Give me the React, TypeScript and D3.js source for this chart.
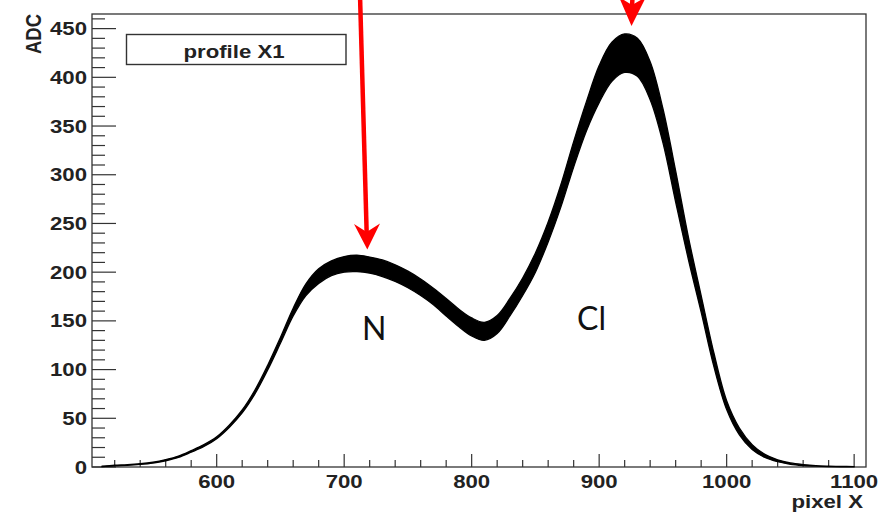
import React from "react";
import * as d3 from "d3";

const W = 893;
const H = 514;

// pixel X positions of profile samples
const xs = [510,520,530,540,550,560,570,580,590,600,610,620,630,640,650,660,670,680,690,700,710,720,730,740,750,760,770,780,790,800,810,820,830,840,850,860,870,880,890,900,910,920,930,940,950,960,970,980,990,1000,1010,1020,1030,1040,1050,1060,1070,1080,1090,1100];
// lower envelope of ADC band
const lo = [0.3,1.2,1.7,2.6,4,6.4,9.8,15.2,21,29,40.8,55.5,75,99.5,127,155,176,188.5,196.5,200,200.5,199,195.5,190.5,184,176,166.5,155,144,134.5,130,137,155,176,200,231,267,308,345,374,396,405,401,377,333,272,213,159,103,59,33,18,9.8,5.4,2.8,1.5,0.8,0.4,0.2,0.1];
// upper envelope of ADC band
const hi = [0.8,1.8,2.4,3.4,5,7.6,11.2,16.8,23,31,43.2,58.5,79,104.5,133,163,188,203.5,211.5,216,217.5,215.5,212.5,207.5,201,193,183.5,173,162,153,148.5,155.5,173,194,219.7,251.5,290,334,375,412,436,444.5,440,416,368,304,236,176,117,68,40,23,13,7.4,4.2,2.5,1.4,0.9,0.6,0.4];

const xMajor = [600, 700, 800, 900, 1000, 1100];
const yMajor = [0, 50, 100, 150, 200, 250, 300, 350, 400, 450];

const FONT = "'Liberation Sans', Arial, Helvetica, sans-serif";

export default function App() {
  const left = 92, right = 866, top = 14, bottom = 467;
  const x = d3.scaleLinear().domain([502.2, 1109.3]).range([left, right]);
  const y = d3.scaleLinear().domain([0, 465]).range([bottom, top]);

  const pts = xs.map((v, i) => ({ x: v, lo: lo[i], hi: hi[i] }));
  const area = d3
    .area<{ x: number; lo: number; hi: number }>()
    .x((d) => x(d.x))
    .y0((d) => y(d.lo))
    .y1((d) => y(d.hi))
    .curve(d3.curveCatmullRom.alpha(0.5));

  const xMinor = d3.range(520, 1101, 20).filter((v) => v % 100 !== 0);
  const yMinor = d3.range(0, 461, 10).filter((v) => v % 50 !== 0);

  const axisCol = "#333";
  const sx = 1.2;

  return (
    <svg
      width={W}
      height={H}
      style={{ position: "absolute", left: 0, top: 0, background: "#fff" }}
      fontFamily={FONT}
    >
      <rect x={0} y={0} width={W} height={H} fill="#fff" />
      {/* frame */}
      <rect x={left} y={top} width={right - left} height={bottom - top} fill="none" stroke={axisCol} strokeWidth={1.3} />

      {/* y ticks */}
      {yMinor.map((v) => (
        <line key={"ym" + v} x1={left} x2={left + 13} y1={y(v)} y2={y(v)} stroke={axisCol} strokeWidth={1.2} />
      ))}
      {yMajor.map((v) => (
        <line key={"yM" + v} x1={left} x2={left + 24} y1={y(v)} y2={y(v)} stroke={axisCol} strokeWidth={1.2} />
      ))}
      {yMajor.map((v) => (
        <text
          key={"yl" + v}
          transform={`translate(87,${y(v) + 6.5}) scale(${sx},1)`}
          textAnchor="end"
          fontSize={18.5}
          fontWeight="bold"
          fill="#222"
        >
          {v}
        </text>
      ))}

      {/* x ticks */}
      {xMinor.map((v) => (
        <line key={"xm" + v} x1={x(v)} x2={x(v)} y1={bottom} y2={bottom - 7} stroke={axisCol} strokeWidth={1.2} />
      ))}
      {xMajor.map((v) => (
        <line key={"xM" + v} x1={x(v)} x2={x(v)} y1={bottom} y2={bottom - 13} stroke={axisCol} strokeWidth={1.2} />
      ))}
      {xMajor.map((v) => (
        <text
          key={"xl" + v}
          transform={`translate(${x(v)},488) scale(${sx},1)`}
          textAnchor="middle"
          fontSize={18.5}
          fontWeight="bold"
          fill="#222"
        >
          {v}
        </text>
      ))}

      {/* axis titles */}
      <text
        transform={`translate(41,14) scale(${sx},1) rotate(-90)`}
        textAnchor="end"
        fontSize={18.5}
        fontWeight="bold"
        fill="#222"
      >
        ADC
      </text>
      <text
        transform={`translate(863,508) scale(${sx},1)`}
        textAnchor="end"
        fontSize={18.5}
        fontWeight="bold"
        fill="#222"
      >
        pixel X
      </text>

      {/* legend box */}
      <rect x={126.5} y={34.5} width={219.5} height={30} fill="#fff" stroke={axisCol} strokeWidth={1.4} />
      <text
        transform={`translate(234,57.5) scale(${sx},1)`}
        textAnchor="middle"
        fontSize={18.5}
        fontWeight="bold"
        fill="#222"
      >
        profile X1
      </text>

      {/* profile band */}
      <path d={area(pts) || ""} fill="#000" stroke="#000" strokeWidth={1.3} strokeLinejoin="round" />

      {/* annotations */}
      <text x={362} y={340} fontFamily="Lato, 'Open Sans', sans-serif" fontSize={32} fill="#111">N</text>
      <text x={577} y={330} fontFamily="Lato, 'Open Sans', sans-serif" fontSize={32} fill="#111">Cl</text>

      {/* red arrows */}
      <line x1={360} y1={-5} x2={366.7} y2={234} stroke="#ff0000" strokeWidth={4.5} />
      <polygon points="354,224 366.7,232 380,223.5 367.3,249.5" fill="#ff0000" />
      <line x1={633} y1={-10} x2={632} y2={6} stroke="#ff0000" strokeWidth={4.5} />
      <polygon points="619,-3 632,5 646,-3 631.5,26" fill="#ff0000" />
    </svg>
  );
}
